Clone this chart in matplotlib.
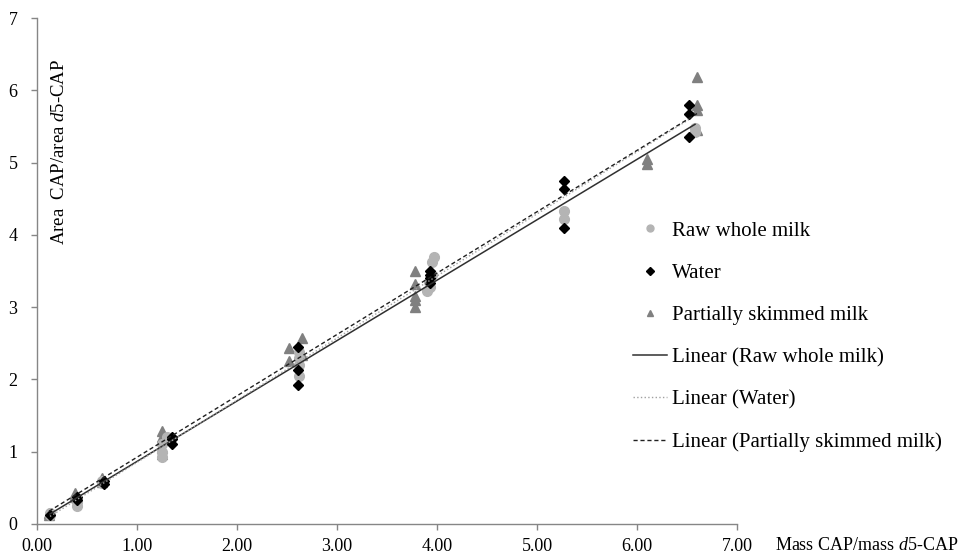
import numpy as np
import matplotlib
matplotlib.use("Agg")
import matplotlib.pyplot as plt
from matplotlib.lines import Line2D

plt.rcParams['font.family'] = ['Liberation Serif', 'DejaVu Serif']
plt.rcParams['mathtext.fontset'] = 'custom'
plt.rcParams['mathtext.it'] = 'Liberation Serif:italic'
plt.rcParams['mathtext.rm'] = 'Liberation Serif'

# ---- data ----
raw_x = [0.13, 0.13, 0.40, 0.40, 0.40, 0.65, 0.65, 1.25, 1.25, 1.25, 1.30,
         2.62, 2.62, 2.62, 2.62, 3.90, 3.93, 3.95, 3.97, 3.95, 3.92,
         5.27, 5.27, 6.58, 6.58]
raw_y = [0.13, 0.15, 0.25, 0.30, 0.35, 0.57, 0.60, 0.93, 1.00, 1.10, 1.20,
         2.05, 2.20, 2.30, 2.38, 3.22, 3.28, 3.45, 3.70, 3.62, 3.35,
         4.22, 4.33, 5.42, 5.48]

water_x = [0.13, 0.40, 0.40, 0.67, 0.67, 1.35, 1.35, 1.35, 2.61, 2.61, 2.61,
           3.93, 3.93, 3.93, 3.93, 5.27, 5.27, 5.27, 6.52, 6.52, 6.52]
water_y = [0.12, 0.33, 0.38, 0.55, 0.60, 1.10, 1.17, 1.20, 1.92, 2.13, 2.45,
           3.33, 3.40, 3.45, 3.50, 4.10, 4.63, 4.75, 5.35, 5.67, 5.80]

skim_x = [0.12, 0.12, 0.38, 0.38, 0.38, 0.65, 0.65, 1.25, 1.25, 1.25, 1.25,
          2.52, 2.52, 2.65, 2.65, 3.78, 3.78, 3.78, 3.78, 3.78,
          6.10, 6.10, 6.60, 6.60, 6.60, 6.60]
skim_y = [0.13, 0.15, 0.38, 0.40, 0.43, 0.58, 0.63, 0.97, 1.05, 1.20, 1.28,
          2.25, 2.43, 2.34, 2.58, 3.00, 3.10, 3.15, 3.32, 3.50,
          4.98, 5.05, 5.45, 5.73, 5.80, 6.18]

labels = ["Raw whole milk", "Water", "Partially skimmed milk",
          "Linear (Raw whole milk)", "Linear (Water)", "Linear (Partially skimmed milk)"]
x_ticks = [0, 1, 2, 3, 4, 5, 6, 7]
y_ticks = [0, 1, 2, 3, 4, 5, 6, 7]

W, H = 966, 554
fig = plt.figure(figsize=(W / 100, H / 100), dpi=100)
ax = fig.add_axes([37 / W, 1 - 524 / H, 700 / W, 506 / H])

c_raw = '#b4b4b4'
c_skim = '#808080'
c_water = '#000000'

ax.plot(skim_x, skim_y, '^', color=c_skim, ms=7.5, mec=c_skim, zorder=3)
ax.plot(raw_x, raw_y, 'o', color=c_raw, ms=7, mec=c_raw, zorder=3.5)
ax.plot(water_x, water_y, 'D', color=c_water, ms=5.3, mec=c_water, zorder=4)

def trend(x, y):
    x = np.asarray(x); y = np.asarray(y)
    m, b = np.polyfit(x, y, 1)
    xs = np.array([x.min(), x.max()])
    return xs, m * xs + b

xs, ys = trend(raw_x, raw_y)
ax.plot(xs, ys, '-', color='#303030', lw=1.1, zorder=5)
xs, ys = trend(water_x, water_y)
ax.plot(xs, ys, ':', color='#a0a0a0', lw=1.0, zorder=5)
xs, ys = trend(skim_x, skim_y)
ax.plot(xs, ys, '--', color='#202020', lw=1.0, dashes=(3, 2), zorder=5)

ax.set_xlim(0, 7)
ax.set_ylim(0, 7)
ax.set_xticks(x_ticks)
ax.set_xticklabels([f"{v:.2f}" for v in x_ticks])
ax.set_yticks(y_ticks)
ax.set_yticklabels([str(v) for v in y_ticks])
for s in ['top', 'right']:
    ax.spines[s].set_visible(False)
for s in ['left', 'bottom']:
    ax.spines[s].set_color('#868686')
    ax.spines[s].set_linewidth(1.0)
ax.tick_params(axis='both', direction='out', length=4, width=1.0, color='#868686',
               labelsize=13)
ax.tick_params(axis='x', pad=6)
ax.tick_params(axis='y', pad=10)

fig.text(775 / W, 1 - 546 / H, r"Mass CAP/mass $\mathit{d}$5-CAP", fontsize=13,
         ha='left', va='center')
fig.text(60 / W, 1 - 152 / H, r"Area  CAP/area $\mathit{d}$5-CAP", fontsize=13.5,
         rotation=90, ha='center', va='center')

handles = [
    Line2D([], [], ls='none', marker='o', color=c_raw, ms=5),
    Line2D([], [], ls='none', marker='D', color=c_water, ms=4),
    Line2D([], [], ls='none', marker='^', color=c_skim, ms=5),
    Line2D([], [], ls='-', color='#303030', lw=1.1),
    Line2D([], [], ls=':', color='#a0a0a0', lw=1.0),
    Line2D([], [], ls='--', color='#202020', lw=1.0, dashes=(3, 2)),
]
leg = fig.legend(handles, labels, loc='upper left',
                 bbox_to_anchor=(633 / W, 1 - 221 / H), frameon=False,
                 fontsize=15, handlelength=1.65, handletextpad=0.2,
                 labelspacing=1.09, borderpad=0, borderaxespad=0)

fig.savefig("out.png", dpi=100)
